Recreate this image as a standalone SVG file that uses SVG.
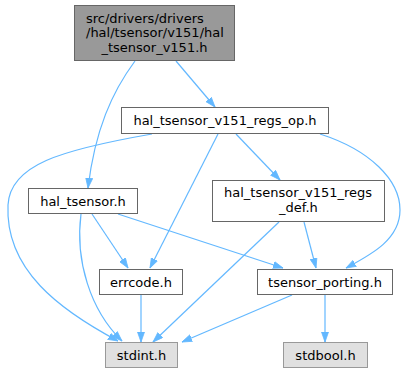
<svg xmlns="http://www.w3.org/2000/svg" width="408" height="373" viewBox="0 0 408 373">
<style>
text{font-family:"DejaVu Sans",sans-serif;font-size:13px;fill:#000}
.n rect{fill:#fff;stroke:#666;stroke-width:1}
.s rect{fill:#e0e0e0;stroke:#999;stroke-width:1}
.r rect{fill:#999;stroke:#666;stroke-width:1}
.m{text-anchor:middle}
#edges path{fill:none;stroke:#63b8ff;stroke-width:1.2;marker-end:url(#ah)}
</style>
<defs>
<marker id="ah" markerUnits="userSpaceOnUse" markerWidth="11" markerHeight="8" refX="10" refY="4" orient="auto">
<path d="M0,0.5 L10,4 L0,7.5 z" fill="#63b8ff" stroke="#63b8ff" stroke-width="0.8"/>
</marker>
</defs>
<g id="edges">
<path d="M135,61 C112,92 95,130 88,188"/>
<path d="M176,61 L215,107"/>
<path d="M152,134 C60,150 10,165 8,205 C5,270 60,310 118,341"/>
<path d="M218,134 L150,268"/>
<path d="M236,134 L280,180"/>
<path d="M320,134 C370,150 400,180 400,210 C400,240 370,255 346,268"/>
<path d="M81,214 C75,260 90,310 122,341"/>
<path d="M92,214 L128,268"/>
<path d="M118,214 L283,268"/>
<path d="M279,222 L153,342"/>
<path d="M304,222 L316,268"/>
<path d="M141,295 L141,342"/>
<path d="M292,295 L182,342"/>
<path d="M325,295 L325,342"/>
</g>
<g id="root" class="r">
<rect x="74.5" y="5.5" width="160" height="55"/>
<text x="86" y="22.5">src/drivers/drivers</text>
<text x="86" y="37">/hal/tsensor/v151/hal</text>
<text x="154.5" y="51.5" class="m">_tsensor_v151.h</text>
</g>
<g id="regs_op" class="n">
<rect x="121.5" y="107.5" width="207" height="26"/>
<text x="225" y="125" class="m">hal_tsensor_v151_regs_op.h</text>
</g>
<g id="regs_def" class="n">
<rect x="212.5" y="180.5" width="172" height="41"/>
<text x="224" y="197">hal_tsensor_v151_regs</text>
<text x="298.5" y="212" class="m">_def.h</text>
</g>
<g id="hal_tsensor" class="n">
<rect x="28.5" y="188.5" width="109" height="25"/>
<text x="83" y="205.5" class="m">hal_tsensor.h</text>
</g>
<g id="errcode" class="n">
<rect x="99.5" y="269.5" width="83" height="25"/>
<text x="141" y="286.5" class="m">errcode.h</text>
</g>
<g id="porting" class="n">
<rect x="257.5" y="269.5" width="135" height="25"/>
<text x="325" y="286.5" class="m">tsensor_porting.h</text>
</g>
<g id="stdint" class="s">
<rect x="105.5" y="342.5" width="72" height="25"/>
<text x="141.5" y="359.5" class="m">stdint.h</text>
</g>
<g id="stdbool" class="s">
<rect x="283.5" y="342.5" width="84" height="25"/>
<text x="325.5" y="359.5" class="m">stdbool.h</text>
</g>
</svg>
